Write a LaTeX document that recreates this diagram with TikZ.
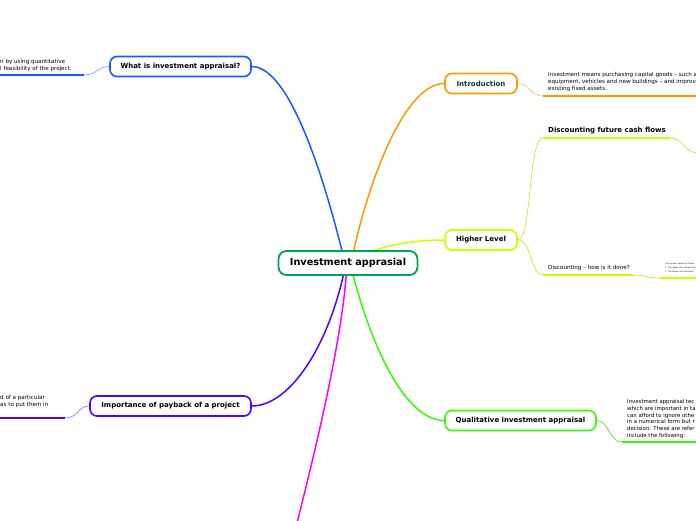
\documentclass[tikz,border=0pt]{standalone}
\usepackage{fontspec}
\setmainfont{DejaVu Sans}
\usetikzlibrary{backgrounds}
\definecolor{cblue}{RGB}{25,90,255}
\definecolor{corange}{RGB}{255,153,0}
\definecolor{cyell}{RGB}{204,255,0}
\definecolor{cgreen}{RGB}{51,255,0}
\definecolor{cpurp}{RGB}{85,0,255}
\definecolor{cmag}{RGB}{255,0,255}
\definecolor{ccent}{RGB}{0,166,81}
\definecolor{cintro}{RGB}{0,60,45}
\begin{document}
\begin{tikzpicture}[x=1pt,y=-1pt,
  central/.style={draw=ccent, line width=1.8pt, rounded corners=8pt, fill=white,
    font=\bfseries\fontsize{9.7}{11}\selectfont, minimum width=139pt, minimum height=24pt, inner sep=0pt},
  topic/.style={draw, line width=1.6pt, rounded corners=7pt, fill=white,
    font=\bfseries\fontsize{7}{8}\selectfont, minimum height=20pt, inner sep=0pt},
  body/.style={font=\fontsize{5.6}{6.7}\selectfont, inner sep=0pt, align=left, anchor=north west},
  branch/.style={line width=1.5pt},
  twig/.style={line width=0.6pt},
  uline/.style={line width=2.4pt}]
\useasboundingbox (0,0) rectangle (696,520);

% nodes
\node[central] (c) at (348,263) {Investment apprasial};
\node[topic, draw=cblue, minimum width=141pt] (what) at (180.5,66.5) {What is investment appraisal?};
\node[topic, draw=corange, minimum width=72pt, text=cintro] (intro) at (481,83.5) {Introduction};
\node[topic, draw=cyell, minimum width=72pt] (higher) at (481,240) {Higher Level};
\node[topic, draw=cgreen, minimum width=151pt] (qual) at (520.5,420.5) {Qualitative investment appraisal};
\node[topic, draw=cpurp, minimum width=161pt] (imp) at (170.5,406) {Importance of payback of a project};

% texts (as far as the picture shows them)
\node[body] (whattxt) at (0,59.5)
  {n by using quantitative\\l feasibility of the project.};
\node[body] (introtxt) at (548,72.5)
  {Investment means purchasing capital goods – such a\\equipment, vehicles and new buildings – and improvi\\existing fixed assets.};
\node[body, anchor=west, font=\bfseries\fontsize{7}{8}\selectfont] (dfc) at (548,131) {Discounting future cash flows};
\node[body, anchor=west] (how) at (548,268) {Discounting – how is it done?};
\node[body, font=\fontsize{2}{3.8}\selectfont] (tiny) at (665,263)
  {The present value of a future\\1. The higher the interest rate\\2. The longer into the future};
\node[body, font=\fontsize{5.4}{6.7}\selectfont] (qualtxt) at (627,399.5)
  {Investment appraisal tec\\which are important in ta\\can afford to ignore othe\\in a numerical form but r\\decision. These are refer\\include the following:};
\node[body] (imptxt) at (0,395.5)
  {d of a particular\\as to put them in};

% underline coordinates
\coordinate (wu0) at (0,75);   \coordinate (wu1) at (84,75);
\coordinate (iu0) at (543,96); \coordinate (iu1) at (700,96);
\coordinate (du0) at (543,138); \coordinate (du1) at (670,138); \coordinate (du2) at (698,153);
\coordinate (hu0) at (543,275); \coordinate (hu1) at (633,275);
\coordinate (tu0) at (660,278); \coordinate (tu1) at (700,278);
\coordinate (qu0) at (622,442); \coordinate (qu1) at (700,442);
\coordinate (pu0) at (0,418);  \coordinate (pu1) at (65,418);
\coordinate (mend) at (297,523);

\begin{pgfonlayer}{background}
% main branches
\draw[branch, cblue] ([xshift=-3pt]c.center) .. controls (325,180) and (290,66.5) .. (what.east);
\draw[branch, corange] ([xshift=3pt]c.center) .. controls (368,180) and (405,83.5) .. (intro.west);
\draw[branch, cyell] ([xshift=2pt]c.center) .. controls (372,246) and (412,240) .. (higher.west);
\draw[branch, cpurp] ([xshift=-2pt]c.center) .. controls (330,345) and (290,406) .. (imp.east);
\draw[branch, cmag] ([xshift=-1pt]c.center) .. controls (344,330) and (318,440) .. (mend);
\draw[branch, cgreen] ([xshift=2pt]c.center) .. controls (370,345) and (405,420.5) .. (qual.west);
\end{pgfonlayer}

% sub-branches
\draw[twig, cblue!60] (wu1) .. controls (97,75) and (97,66.5) .. (what.west);
\draw[uline, cblue] (wu0) -- (wu1);
\draw[twig, corange!60] (intro.east) .. controls (530,83.5) and (530,96) .. (iu0);
\draw[uline, corange] (iu0) -- (iu1);
\draw[twig, cyell!80!gray] (higher.east) .. controls (532,240) and (528,138) .. (du0);
\draw[uline, cyell] (du0) -- (du1);
\draw[twig, cyell!80!gray] (du1) .. controls (684,138) and (684,153) .. (du2);
\draw[twig, cyell!80!gray] (higher.east) .. controls (532,240) and (530,275) .. (hu0);
\draw[uline, cyell] (hu0) -- (hu1);
\draw[twig, cyell!80!gray] (hu1) .. controls (646,275) and (646,278) .. (tu0);
\draw[uline, cyell] (tu0) -- (tu1);
\draw[twig, cgreen!70!gray] (qual.east) .. controls (609,420.5) and (609,442) .. (qu0);
\draw[uline, cgreen] (qu0) -- (qu1);
\draw[twig, cpurp!60] (pu1) .. controls (78,418) and (78,406) .. (imp.west);
\draw[uline, cpurp] (pu0) -- (pu1);
\end{tikzpicture}
\end{document}
